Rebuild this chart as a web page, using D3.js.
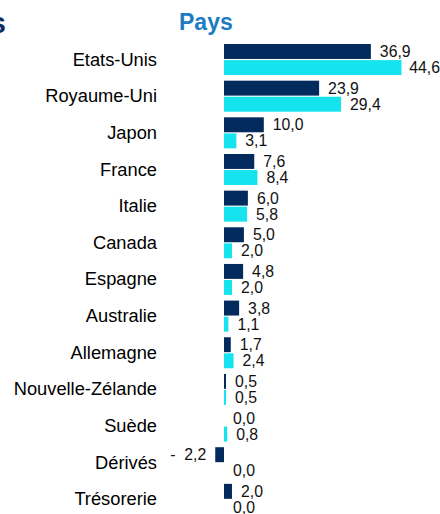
<!DOCTYPE html>
<html><head><meta charset="utf-8">
<script src="https://cdn.jsdelivr.net/npm/d3@7/dist/d3.min.js"></script>
<style>
html,body{margin:0;padding:0;background:#fff;overflow:hidden;}
svg{display:block;font-family:"Liberation Sans",Arial,sans-serif;}
</style></head>
<body><svg id="c" width="440" height="514"></svg>
<script>
const categories = ["Etats-Unis","Royaume-Uni","Japon","France","Italie","Canada","Espagne","Australie","Allemagne","Nouvelle-Zélande","Suède","Dérivés","Trésorerie"];
const seriesA = [36.9,23.9,10.0,7.6,6.0,5.0,4.8,3.8,1.7,0.5,0.0,-2.2,2.0];
const seriesB = [44.6,29.4,3.1,8.4,5.8,2.0,2.0,1.1,2.4,0.5,0.8,0.0,0.0];
const seriesKeys = ["a","b"];
const colors = {a:"#032a5c", b:"#15e4ef"};
const title = "Pays";

const svg = d3.select("#c");
const W = 440;

const x = d3.scaleLinear().domain([0, 44.6]).range([224, 224 + 44.6*3.98]);
const y = d3.scaleBand().domain(categories).range([41.2, 517.7]).paddingInner(0.154).paddingOuter(0.077);
const y1 = d3.scaleBand().domain(seriesKeys).range([0, y.bandwidth()]).paddingInner(0.07);

const fmt = v => {
  const s = d3.format(".1f")(Math.abs(v)).replace(".", ",");
  return v < 0 ? "-\u00a0\u00a0" + s : s;
};

// clipped title fragment at left
svg.append("text").attr("x", 6).attr("y", 33).attr("text-anchor","end")
  .attr("font-size", 30).attr("font-weight","bold").attr("fill","#0b2d63").text("s");

svg.append("text").attr("x", 179).attr("y", 30)
  .attr("font-size", 23).attr("font-weight","bold").attr("fill","#1b7cc2").text(title);

// category labels
svg.append("g").selectAll("text").data(categories).join("text")
  .attr("x", 157).attr("y", d => y(d) + y.bandwidth()/2)
  .attr("dy","0.33em").attr("text-anchor","end")
  .attr("font-size", 18.3).attr("fill","#000").text(d => d);

const rows = categories.map((c,i) => ({c, vals: [{k:"a", v: seriesA[i]}, {k:"b", v: seriesB[i]}]}));

const g = svg.append("g").selectAll("g").data(rows).join("g")
  .attr("transform", d => `translate(0,${y(d.c)})`);

g.selectAll("rect").data(d => d.vals).join("rect")
  .attr("x", d => Math.min(x(0), x(d.v)))
  .attr("width", d => Math.abs(x(d.v) - x(0)))
  .attr("y", d => y1(d.k))
  .attr("height", y1.bandwidth())
  .attr("fill", d => colors[d.k]);

g.selectAll("text").data(d => d.vals).join("text")
  .attr("y", d => y1(d.k) + y1.bandwidth()/2)
  .attr("dy","0.35em")
  .attr("font-size", 15.8).attr("fill","#111")
  .attr("text-anchor", d => d.v < 0 ? "end" : "start")
  .attr("x", d => d.v < 0 ? x(d.v) - 9 : x(d.v) + 9)
  .text(d => fmt(d.v))
  .each(function(d){
    if (d.v >= 0) {
      const w = this.getComputedTextLength();
      const xx = +this.getAttribute("x");
      if (xx + w > W) this.setAttribute("x", W - w);
    }
  });
</script></body></html>
